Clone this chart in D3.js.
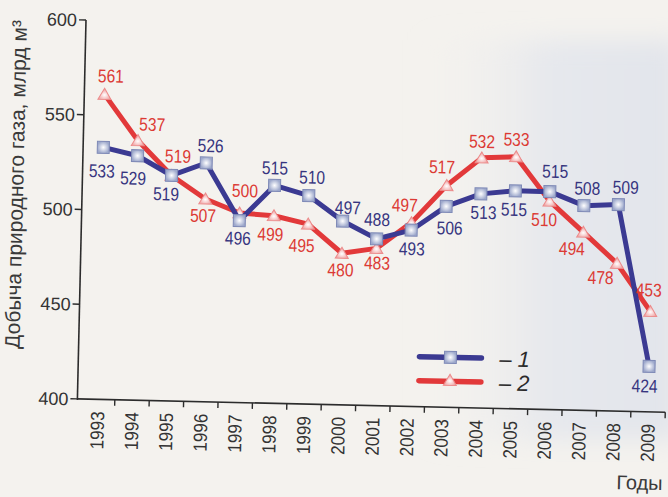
<!DOCTYPE html>
<html>
<head>
<meta charset="utf-8">
<script src="https://cdn.jsdelivr.net/npm/d3@7"></script>
<style>
  body { margin: 0; background: #f4f2ee; }
  svg { display: block; }
  text { font-family: "Liberation Sans", Arial, sans-serif; }
  .val { font-size: 18.5px; }
</style>
</head>
<body>
<svg id="chart" width="668" height="497"></svg>
<script>
// Data
const years = ["1993", "1994", "1995", "1996", "1997", "1998", "1999", "2000", "2001",
               "2002", "2003", "2004", "2005", "2006", "2007", "2008", "2009"];
const series1 = [533, 529, 519, 526, 496, 515, 510, 497, 488, 493, 506, 513, 515, 515, 508, 509, 424];
const series2 = [561, 537, 519, 507, 500, 499, 495, 480, 483, 497, 517, 532, 533, 510, 494, 478, 453];
const yTicks = [400, 450, 500, 550, 600];
const legendNames = ["1", "2"];

// where each value label sits relative to its marker [dx, dy]
const labelOffset1 = [[-1, 30], [-4, 29], [-5, 25], [4, -11], [-1, 24], [0, -11], [3, -12], [5, -7], [0, -13],
                      [1, 25], [4, 28], [3, 25], [-1, 25], [5, -14], [3, -11], [7, -11], [-4, 26]];
const labelOffset2 = [[6, -12], [14, -10], [6, -13], [-2, 23], [5, -16], [-3, 25], [-6, 28], [-1, 23], [1, 21],
                      [-7, -11], [-5, -12], [0, -10], [0, -11], [-5, 25], [-11, 23], [-16, 21], [-2, -15]];

const blue = "#3b3a92", red = "#e2393a";
const blueText = "#37357f", redText = "#dc3a34";

const svg = d3.select("#chart");
const defs = svg.append("defs");

// paper tint on the right side of the scan
const bg = defs.append("linearGradient").attr("id", "paper").attr("x1", 0).attr("x2", 1);
bg.append("stop").attr("offset", 0).attr("stop-color", "#f4f2ee").attr("stop-opacity", 0);
bg.append("stop").attr("offset", 0.5).attr("stop-color", "#e6e8ed");
bg.append("stop").attr("offset", 1).attr("stop-color", "#e2e5eb");
defs.append("filter").attr("id", "soft").append("feGaussianBlur").attr("stdDeviation", 12);
svg.append("rect").attr("x", 420).attr("y", 40).attr("width", 260).attr("height", 400)
    .attr("fill", "url(#paper)").attr("filter", "url(#soft)");

const sq = defs.append("radialGradient").attr("id", "sqFill");
sq.append("stop").attr("offset", 0).attr("stop-color", "#ffffff");
sq.append("stop").attr("offset", 1).attr("stop-color", "#9ea9cc");
const tri = defs.append("radialGradient").attr("id", "triFill").attr("cy", 0.6);
tri.append("stop").attr("offset", 0).attr("stop-color", "#ffffff");
tri.append("stop").attr("offset", 1).attr("stop-color", "#f0a4a4");

// the printed page is slightly rotated
const g = svg.append("g").attr("transform", "rotate(1.3, 86, 20)");

const x = d3.scaleBand().domain(years).range([89, 674]);
const y = d3.scaleLinear().domain([400, 600]).range([399, 20]);
const cx = d => x(d) + x.bandwidth() / 2;

// y axis
g.append("line").attr("x1", 86).attr("x2", 86).attr("y1", y(600)).attr("y2", y(400) + 1)
    .attr("stroke", "#2c2c2c").attr("stroke-width", 1.6);
g.selectAll(".ytick").data(yTicks).enter().append("line")
    .attr("x1", 79).attr("x2", 86).attr("y1", d => y(d)).attr("y2", d => y(d))
    .attr("stroke", "#2c2c2c").attr("stroke-width", 1.4);
g.selectAll(".ylab").data(yTicks).enter().append("text")
    .attr("x", 77).attr("y", d => y(d)).attr("dy", "0.36em")
    .attr("text-anchor", "end").attr("font-size", 18).attr("fill", "#333")
    .text(d => d);

// x axis
g.append("line").attr("x1", 86).attr("x2", 674).attr("y1", y(400)).attr("y2", y(400))
    .attr("stroke", "#2c2c2c").attr("stroke-width", 1.6);
g.selectAll(".xtick").data(years).enter().append("line")
    .attr("x1", d => x(d) + x.bandwidth()).attr("x2", d => x(d) + x.bandwidth())
    .attr("y1", y(400)).attr("y2", y(400) + 6)
    .attr("stroke", "#2c2c2c").attr("stroke-width", 1.4);
g.selectAll(".xlab").data(years).enter().append("text")
    .attr("transform", d => `translate(${cx(d)},${y(400) + 12}) rotate(-90)`)
    .attr("dy", "0.36em").attr("text-anchor", "end")
    .attr("font-size", 19).attr("textLength", 38).attr("lengthAdjust", "spacingAndGlyphs")
    .attr("fill", "#333")
    .text(d => d);

// axis titles
g.append("text")
    .attr("transform", "translate(27,186) rotate(-90)")
    .attr("text-anchor", "middle").attr("font-size", 21).attr("fill", "#3a3a3a")
    .text("Добыча природного газа, млрд м³");
g.append("text").attr("x", 673).attr("y", 477).attr("text-anchor", "end")
    .attr("font-size", 20).attr("fill", "#3a3a3a").text("Годы");

const line = d3.line().x((d, i) => cx(years[i])).y(d => y(d));

const triPath = "M0,-6L6.5,5L-6.5,5Z";

function drawSeries(values, color, marker) {
    g.append("path").datum(values)
        .attr("d", line)
        .attr("fill", "none").attr("stroke", color)
        .attr("stroke-width", 5).attr("stroke-linejoin", "round");
    if (marker === "square") {
        g.selectAll(null).data(values).enter().append("rect")
            .attr("x", (d, i) => cx(years[i]) - 6).attr("y", d => y(d) - 6)
            .attr("width", 12).attr("height", 12)
            .attr("fill", "url(#sqFill)").attr("stroke", "#7e89b6").attr("stroke-width", 1);
    } else {
        g.selectAll(null).data(values).enter().append("path")
            .attr("d", triPath)
            .attr("transform", (d, i) => `translate(${cx(years[i])},${y(d)})`)
            .attr("fill", "url(#triFill)").attr("stroke", "#ec8a8a").attr("stroke-width", 1);
    }
}

drawSeries(series2, red, "triangle");
drawSeries(series1, blue, "square");

function drawLabels(values, offsets, color) {
    g.selectAll(null).data(values).enter().append("text")
        .attr("class", "val")
        .attr("x", (d, i) => cx(years[i]) + offsets[i][0])
        .attr("y", (d, i) => y(d) + offsets[i][1])
        .attr("text-anchor", "middle").attr("fill", color)
        .attr("textLength", 26).attr("lengthAdjust", "spacingAndGlyphs")
        .text(d => d);
}
drawLabels(series1, labelOffset1, blueText);
drawLabels(series2, labelOffset2, redText);

// legend
const legend = g.append("g").attr("transform", "translate(427,349)");
legendNames.forEach((name, i) => {
    const row = legend.append("g").attr("transform", `translate(0,${i * 24})`);
    row.append("line").attr("x1", 0).attr("x2", 62).attr("y1", 0).attr("y2", 0)
        .attr("stroke", i === 0 ? blue : red).attr("stroke-width", 5.5).attr("stroke-linecap", "round");
    if (i === 0) {
        row.append("rect").attr("x", 25).attr("y", -6).attr("width", 12).attr("height", 12)
            .attr("fill", "url(#sqFill)").attr("stroke", "#7e89b6");
    } else {
        row.append("path").attr("d", triPath).attr("transform", "translate(31,-1)")
            .attr("fill", "url(#triFill)").attr("stroke", "#ec8a8a");
    }
    row.append("text").attr("x", 80).attr("y", 0).attr("dy", "0.36em")
        .attr("font-size", 22).attr("font-style", "italic").attr("fill", "#2a2a2a")
        .text("– " + name);
});
</script>
</body>
</html>
